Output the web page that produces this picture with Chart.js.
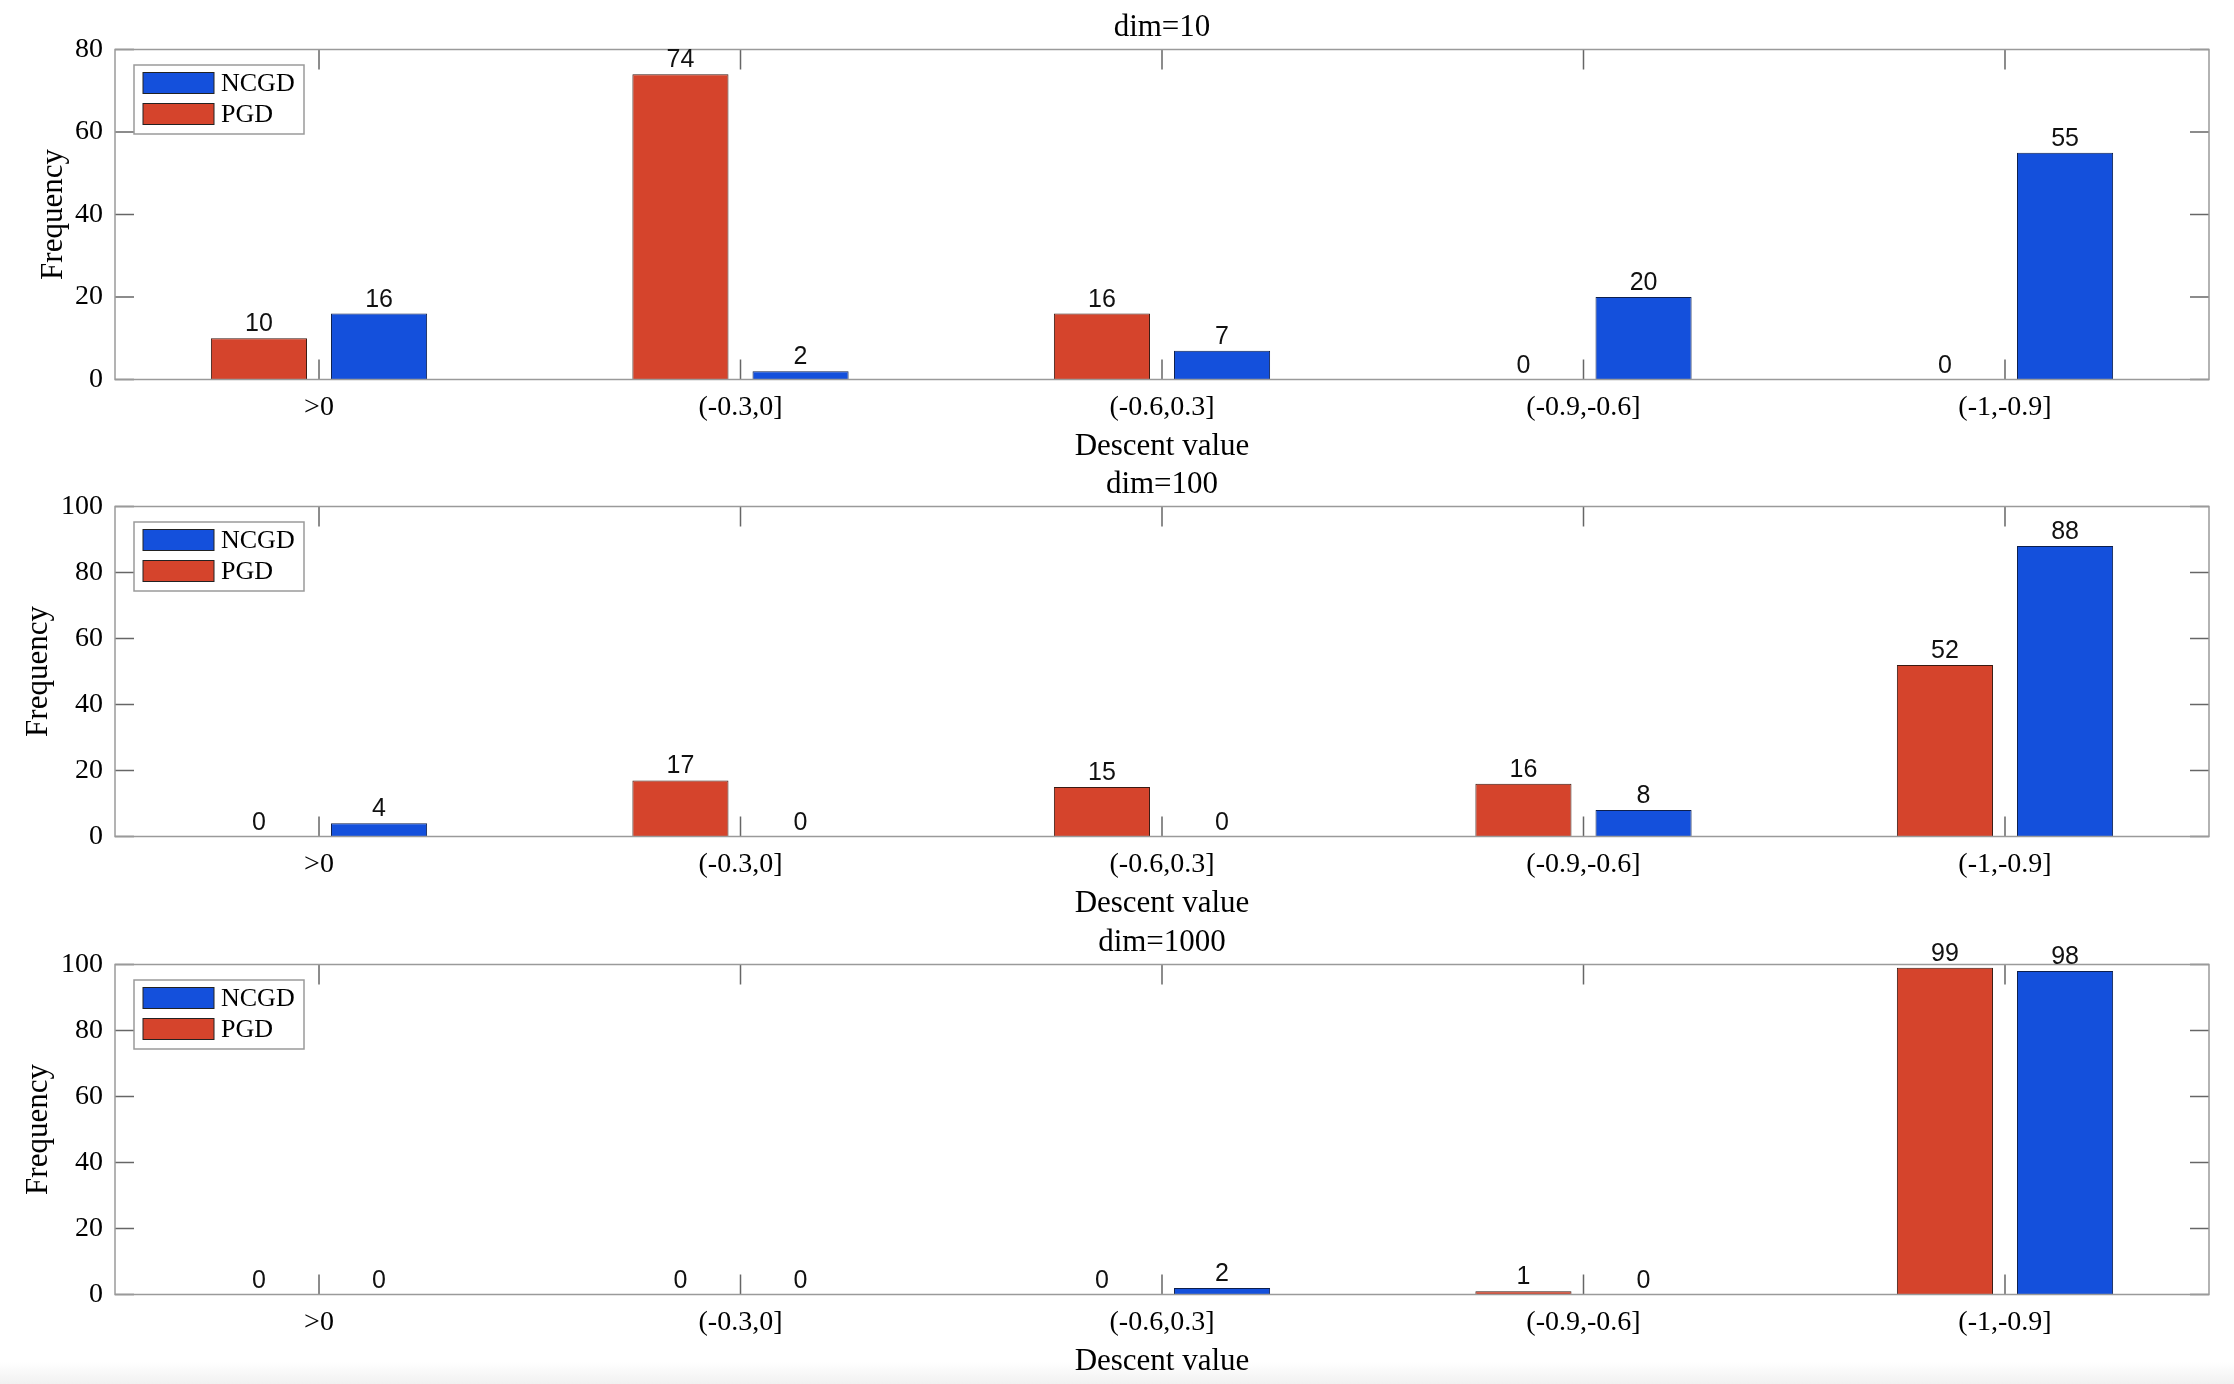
<!DOCTYPE html>
<html>
<head>
<meta charset="utf-8">
<script src="https://cdn.jsdelivr.net/npm/chart.js@4.4.1/dist/chart.umd.min.js"></script>
<style>
html, body { margin: 0; padding: 0; background: #fff; overflow: hidden; width: 2234px; height: 1384px; }
.panel { position: absolute; left: 0; width: 2234px; height: 470px; }
#band { position: absolute; left: 0; bottom: 0; width: 2234px; height: 22px; background: linear-gradient(#fff, #f1f1f1); }
</style>
</head>
<body>
<div id="band"></div>
<div class="panel" style="top:0px"><canvas id="dim10"></canvas></div>
<div class="panel" style="top:457px"><canvas id="dim100"></canvas></div>
<div class="panel" style="top:915px"><canvas id="dim1000"></canvas></div>
<script>
// data
var categories = ['>0', '(-0.3,0]', '(-0.6,0.3]', '(-0.9,-0.6]', '(-1,-0.9]'];
var seriesNames = ['PGD', 'NCGD'];
var pgd10 = [10, 74, 16, 0, 0];
var ncgd10 = [16, 2, 7, 20, 55];
var pgd100 = [0, 17, 15, 16, 52];
var ncgd100 = [4, 0, 0, 8, 88];
var pgd1000 = [0, 0, 0, 1, 99];
var ncgd1000 = [0, 0, 2, 0, 98];
var yTicks10 = [0, 20, 40, 60, 80];
var yTicks100 = [0, 20, 40, 60, 80, 100];

var RED = '#d5442c';
var BLUE = '#1450dc';
var SERIF = "'Liberation Serif', 'Times New Roman', serif";
var SANS = "'Liberation Sans', Arial, sans-serif";

Chart.defaults.font.family = SERIF;
Chart.defaults.font.size = 28;
Chart.defaults.color = '#000';

function line(ctx, x1, y1, x2, y2) {
    ctx.beginPath();
    ctx.moveTo(x1, y1);
    ctx.lineTo(x2, y2);
    ctx.stroke();
}

// box + inward ticks, matlab style
var axesBox = {
    id: 'axesBox',
    afterDatasetsDraw: function (chart) {
        var ctx = chart.ctx, a = chart.chartArea;
        var xs = chart.scales.x, ys = chart.scales.y;
        ctx.save();
        ctx.lineWidth = 1.5;
        ctx.strokeStyle = '#666';
        ys.ticks.forEach(function (t) {
            var y = ys.getPixelForValue(t.value);
            line(ctx, a.left, y, a.left + 19, y);
            line(ctx, a.right, y, a.right - 19, y);
        });
        chart.data.labels.forEach(function (c, i) {
            var x = xs.getPixelForValue(i);
            line(ctx, x, a.bottom, x, a.bottom - 20);
            line(ctx, x, a.top, x, a.top + 20);
        });
        ctx.strokeStyle = '#9a9a9a';
        ctx.strokeRect(a.left, a.top, a.right - a.left, a.bottom - a.top);
        ctx.restore();
    }
};

// value on top of each bar
var barValues = {
    id: 'barValues',
    afterDatasetsDraw: function (chart) {
        var ctx = chart.ctx;
        ctx.save();
        ctx.font = '25px ' + SANS;
        ctx.fillStyle = '#111';
        ctx.textAlign = 'center';
        ctx.textBaseline = 'alphabetic';
        chart.data.datasets.forEach(function (ds, di) {
            chart.getDatasetMeta(di).data.forEach(function (bar, i) {
                ctx.fillText(String(ds.data[i]), bar.x, bar.y - 7);
            });
        });
        ctx.restore();
    }
};

// legend inside the axes, NCGD first
var boxLegend = {
    id: 'boxLegend',
    afterDraw: function (chart) {
        var ctx = chart.ctx, a = chart.chartArea;
        var left = a.left + 19, top = a.top + 15.5;
        ctx.save();
        ctx.fillStyle = '#fff';
        ctx.fillRect(left, top, 170, 69);
        ctx.lineWidth = 1.5;
        ctx.strokeStyle = '#9a9a9a';
        ctx.strokeRect(left, top, 170, 69);
        var items = chart.data.datasets.slice().reverse();
        ctx.font = '26px ' + SERIF;
        ctx.textBaseline = 'middle';
        items.forEach(function (ds, i) {
            var cy = top + 18 + i * 31;
            ctx.fillStyle = ds.backgroundColor;
            ctx.fillRect(left + 9, cy - 10.5, 71, 21);
            ctx.lineWidth = 1;
            ctx.strokeStyle = '#222';
            ctx.strokeRect(left + 9, cy - 10.5, 71, 21);
            ctx.fillStyle = '#000';
            ctx.fillText(ds.label, left + 87, cy + 1);
        });
        ctx.restore();
    }
};

function makePanel(id, title, pgd, ncgd, yTicks, yTitlePad) {
    var edge = function (c) { return c.raw === 0 ? 0 : 1; };
    return new Chart(document.getElementById(id), {
        type: 'bar',
        data: {
            labels: categories,
            datasets: [
                {
                    label: seriesNames[0],
                    data: pgd,
                    backgroundColor: RED,
                    borderColor: '#3a1a12',
                    borderWidth: edge,
                    borderSkipped: 'bottom',
                    categoryPercentage: 0.57,
                    barPercentage: 0.8
                },
                {
                    label: seriesNames[1],
                    data: ncgd,
                    backgroundColor: BLUE,
                    borderColor: '#0d1f4d',
                    borderWidth: edge,
                    borderSkipped: 'bottom',
                    categoryPercentage: 0.57,
                    barPercentage: 0.8
                }
            ]
        },
        options: {
            responsive: true,
            maintainAspectRatio: false,
            animation: false,
            layout: { padding: { left: 0, right: 25, top: 0, bottom: 0 } },
            plugins: {
                legend: { display: false },
                tooltip: { enabled: false },
                title: {
                    display: true,
                    fullSize: false,
                    text: title,
                    color: '#000',
                    font: { family: SERIF, size: 31, weight: 'normal', lineHeight: 1.2 },
                    padding: { top: 9.4, bottom: 2.9 }
                }
            },
            scales: {
                x: {
                    grid: { display: false, drawTicks: false },
                    border: { display: false },
                    // matlab xlim is a bit tighter than chart.js offset
                    afterBuildTicks: function (s) {
                        s._startValue = -0.484;
                        s._valueRange = categories.length - 1 + 0.968;
                    },
                    ticks: { padding: 11, font: { family: SERIF, size: 28 }, color: '#000', maxRotation: 0 },
                    title: {
                        display: true,
                        text: 'Descent value',
                        color: '#000',
                        font: { family: SERIF, size: 31, lineHeight: 1.2 },
                        padding: { top: 0, bottom: 5 }
                    },
                    afterFit: function (s) { s.height = 470 - 49.5 - 330; }
                },
                y: {
                    min: yTicks[0],
                    max: yTicks[yTicks.length - 1],
                    grid: { display: false, drawTicks: false },
                    border: { display: false },
                    afterBuildTicks: function (s) {
                        s.ticks = yTicks.map(function (v) { return { value: v }; });
                    },
                    ticks: { padding: 12, font: { family: SERIF, size: 28 }, color: '#000' },
                    title: {
                        display: true,
                        text: 'Frequency',
                        color: '#000',
                        font: { family: SERIF, size: 31, lineHeight: 1.2 },
                        padding: { top: yTitlePad, bottom: 0 }
                    },
                    afterFit: function (s) { s.width = 115; }
                }
            }
        },
        plugins: [axesBox, barValues, boxLegend]
    });
}

makePanel('dim10', 'dim=10', pgd10, ncgd10, yTicks10, 35.4);
makePanel('dim100', 'dim=100', pgd100, ncgd100, yTicks100, 20.4);
makePanel('dim1000', 'dim=1000', pgd1000, ncgd1000, yTicks100, 20.4);
</script>
</body>
</html>
